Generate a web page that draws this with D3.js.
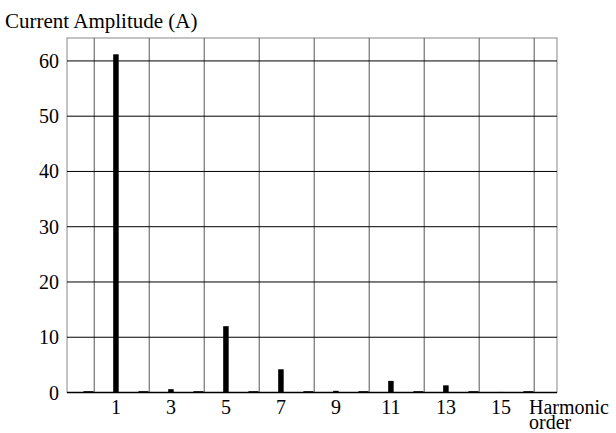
<!DOCTYPE html>
<html>
<head>
<meta charset="utf-8">
<script src="https://cdn.jsdelivr.net/npm/d3@7"></script>
<style>
  body { margin: 0; background: #fff; }
  text { font-family: "Liberation Serif", "Times New Roman", serif; fill: #000; }
</style>
</head>
<body>
<div id="chart"></div>
<script>
// Data
const oddOrders = [1, 3, 5, 7, 9, 11, 13, 15];
const oddAmps = [61.2, 0.6, 12.0, 4.2, 0.3, 2.1, 1.3, 0.1];
const evenOrders = [0, 2, 4, 6, 8, 10, 12, 14, 16];
const evenAmps = [0.15, 0.15, 0.15, 0.15, 0.15, 0.15, 0.15, 0.15, 0.15];
const yTicks = [0, 10, 20, 30, 40, 50, 60];
const xGrid = [0.21, 2.21, 4.21, 6.21, 8.21, 10.21, 12.21, 14.21, 16.21];

const width = 616, height = 433;
const m = { left: 67, right: 59, top: 38, bottom: 40.5 };

const svg = d3.select('#chart').append('svg').attr('width', width).attr('height', height);

const x = d3.scaleLinear().domain([-0.78, 17.04]).range([m.left, width - m.right]);
const y = d3.scaleLinear().domain([0, 64.15]).range([height - m.bottom, m.top]);

// frame
svg.append('rect')
    .attr('x', m.left).attr('y', m.top)
    .attr('width', width - m.right - m.left).attr('height', height - m.bottom - m.top)
    .attr('fill', 'none').attr('stroke', '#888').attr('stroke-width', 1);

// vertical grid
svg.selectAll('line.vg').data(xGrid).enter().append('line')
    .attr('class', 'vg')
    .attr('x1', d => x(d)).attr('x2', d => x(d))
    .attr('y1', m.top).attr('y2', height - m.bottom)
    .attr('stroke', '#555').attr('stroke-width', 1);

// horizontal grid
svg.selectAll('line.hg').data(yTicks.filter(d => d > 0)).enter().append('line')
    .attr('class', 'hg')
    .attr('x1', m.left).attr('x2', width - m.right)
    .attr('y1', d => y(d)).attr('y2', d => y(d))
    .attr('stroke', '#000').attr('stroke-width', 1);

// zero line
svg.append('line')
    .attr('x1', m.left).attr('x2', width - m.right)
    .attr('y1', y(0)).attr('y2', y(0))
    .attr('stroke', '#000').attr('stroke-width', 1.5);

// even harmonic stubs
svg.selectAll('rect.even').data(evenOrders).enter().append('rect')
    .attr('class', 'even')
    .attr('x', d => x(d) - 5).attr('width', 10)
    .attr('y', (d, i) => y(evenAmps[i]) - 0.5)
    .attr('height', (d, i) => y(0) - y(evenAmps[i]) + 1)
    .attr('fill', '#000');

// odd harmonic bars
svg.selectAll('rect.bar').data(oddOrders).enter().append('rect')
    .attr('class', 'bar')
    .attr('x', d => x(d) - 2.75).attr('width', 5.5)
    .attr('y', (d, i) => y(oddAmps[i]))
    .attr('height', (d, i) => y(0) - y(oddAmps[i]) + 0.5)
    .attr('fill', '#000');

// y tick labels
svg.selectAll('text.yl').data(yTicks).enter().append('text')
    .attr('class', 'yl')
    .attr('x', 59).attr('y', d => y(d) + 7)
    .attr('text-anchor', 'end').style('font-size', '20px')
    .text(d => d);

// x tick labels
svg.selectAll('text.xl').data(oddOrders).enter().append('text')
    .attr('class', 'xl')
    .attr('x', d => x(d)).attr('y', 414)
    .attr('text-anchor', 'middle').style('font-size', '20px')
    .text(d => d);

svg.append('text').attr('x', 5).attr('y', 28).style('font-size', '21px').text('Current Amplitude (A)');
svg.append('text').attr('x', 529).attr('y', 414).style('font-size', '20px').text('Harmonic');
svg.append('text').attr('x', 529).attr('y', 429).style('font-size', '20px').text('order');
</script>
</body>
</html>
